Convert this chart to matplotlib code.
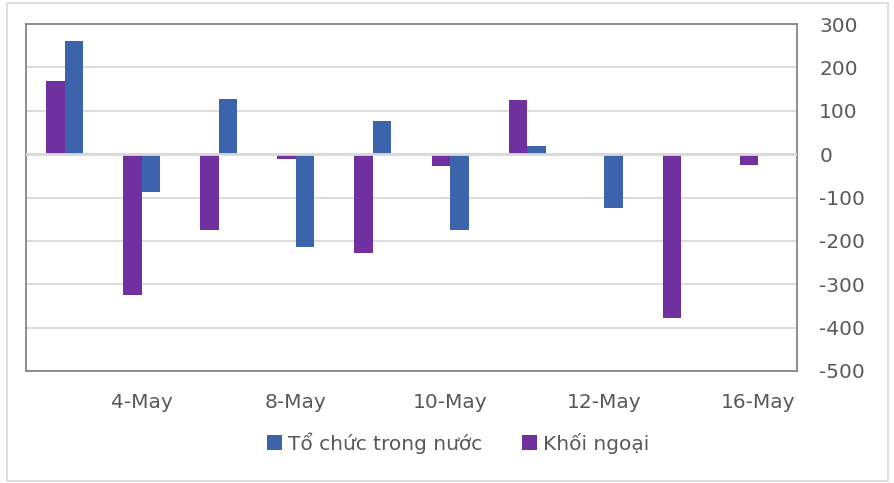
import numpy as np
import matplotlib
matplotlib.use("Agg")
import matplotlib.pyplot as plt
from matplotlib.patches import Rectangle

dates = ["3-May", "4-May", "5-May", "8-May", "9-May",
         "10-May", "11-May", "12-May", "15-May", "16-May"]
to_chuc = [260, -87, 126, -213, 76, -174, 18, -124, 0, 0]
khoi_ngoai = [169, -325, -175, -12, -229, -27, 124, 0, -377, -25]
y_ticks = [300, 200, 100, 0, -100, -200, -300, -400, -500]

BLUE = "#3B64AD"
PURPLE = "#7030A0"
TXT = "#595959"

plt.rcParams["font.family"] = ["DejaVu Sans"]
plt.rcParams["axes.unicode_minus"] = False

fig = plt.figure(figsize=(8.95, 4.83), dpi=100)
ax = fig.add_axes([26 / 895, 112 / 483, 771 / 895, 347 / 483])

# light outer chart border
fig.patches.append(Rectangle((7 / 895, 2 / 483), 881 / 895, 478 / 483,
                             transform=fig.transFigure, fill=False,
                             edgecolor="#D9D9D9", lw=1.2))

x = np.arange(len(dates))
w = 0.24
ax.bar(x - w / 2, khoi_ngoai, w, color=PURPLE, zorder=2, label="Khối ngoại")
ax.bar(x + w / 2, to_chuc, w, color=BLUE, zorder=2, label="Tổ chức trong nước")
ax.axhline(0, color="#D9D9D9", lw=2, zorder=3)

ax.set_xlim(-0.5, len(dates) - 0.5)
ax.set_ylim(-500, 300)
ax.set_yticks(y_ticks)
ax.yaxis.tick_right()
ax.grid(axis="y", color="#D9D9D9", lw=1.3, zorder=0)
ax.set_axisbelow(True)

ax.set_xticks(x[1::2])
ax.set_xticklabels(dates[1::2])
ax.tick_params(axis="both", length=0, labelsize=14.5, colors=TXT)
ax.tick_params(axis="y", pad=16)
ax.tick_params(axis="x", pad=16)

for s in ax.spines.values():
    s.set_color("#878787")
    s.set_linewidth(1.3)

h, l = ax.get_legend_handles_labels()
fig.legend(h[::-1], l[::-1], loc="center", bbox_to_anchor=(458 / 895, 1 - 443 / 483),
           ncol=2, frameon=False, fontsize=14.5, labelcolor=TXT,
           handlelength=0.75, handleheight=0.75, handletextpad=0.3,
           columnspacing=2.0)

fig.savefig("out.png", dpi=100)
